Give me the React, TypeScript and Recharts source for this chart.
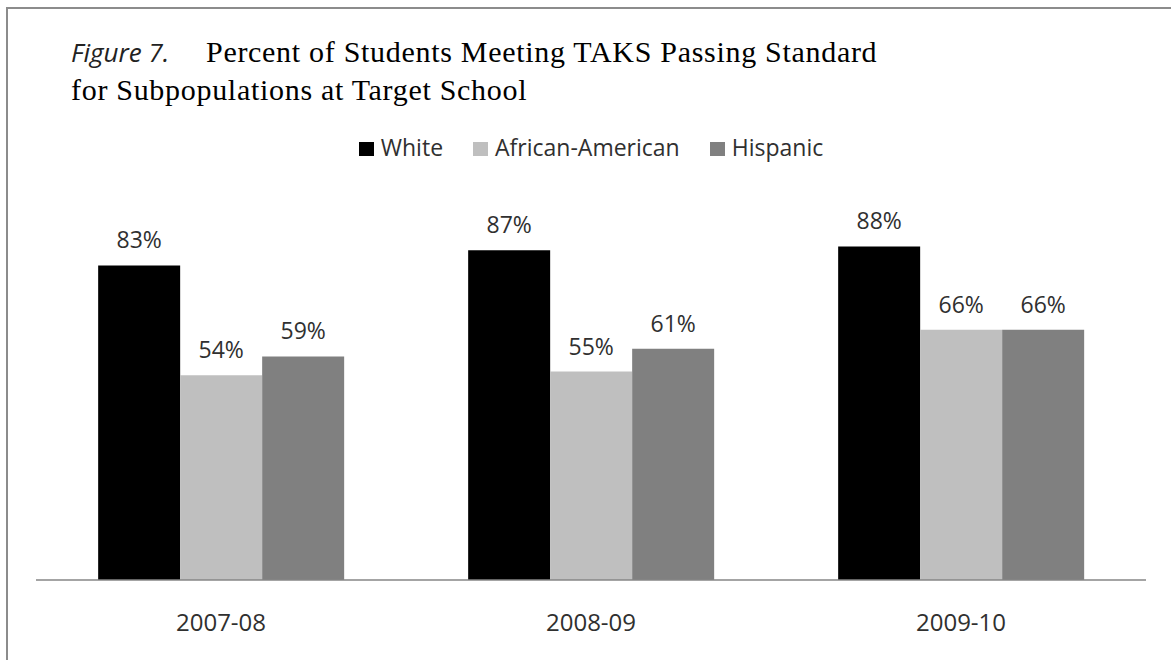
import * as React from 'react';
import { Bar, BarChart, LabelList, XAxis, YAxis } from 'recharts';

const years = ['2007-08', '2008-09', '2009-10'];
const white = [83, 87, 88];
const africanAmerican = [54, 55, 66];
const hispanic = [59, 61, 66];

const seriesNames = ['White', 'African-American', 'Hispanic'];
const seriesColors = ['#000000', '#bfbfbf', '#808080'];

const data = years.map((year, i) => ({
  year,
  white: white[i],
  africanAmerican: africanAmerican[i],
  hispanic: hispanic[i],
}));

const sans = '"Open Sans", Calibri, sans-serif';
const serif = '"Liberation Serif", "Times New Roman", serif';
const textColor = '#303030';

// legend sits outside the chart so it doesn't eat into the plot height
function LegendRow() {
  return (
    <div
      style={{
        position: 'absolute',
        top: 136,
        left: 36,
        width: 1110,
        display: 'flex',
        justifyContent: 'center',
        alignItems: 'center',
        fontFamily: sans,
        fontSize: 23,
        lineHeight: '23px',
        color: textColor,
      }}
    >
      {seriesNames.map((name, i) => (
        <div key={name} style={{ display: 'flex', alignItems: 'center', marginLeft: i ? 30 : 0 }}>
          <span
            style={{
              display: 'inline-block',
              width: 15,
              height: 14,
              marginTop: 2,
              marginRight: 7,
              background: seriesColors[i],
            }}
          />
          <span>{name}</span>
        </div>
      ))}
    </div>
  );
}

const pct = (v: number) => `${v}%`;
const labelStyle = { fontSize: 23, fontFamily: sans, fill: textColor };

export default function App() {
  return (
    <div
      style={{
        position: 'absolute',
        left: 0,
        top: 0,
        width: 1171,
        height: 660,
        overflow: 'hidden',
        background: '#fff',
      }}
    >
      {/* frame: only top and left edges fall inside the picture */}
      <div
        style={{
          position: 'absolute',
          left: 6,
          top: 7,
          width: 1300,
          height: 800,
          border: '2px solid #8c8c8c',
          boxSizing: 'border-box',
        }}
      />
      <svg width={1171} height={120} style={{ position: 'absolute', left: 0, top: 0 }}>
        <text x={71} y={62} fill="#222" fontFamily={sans} fontStyle="italic" fontSize={26}>
          Figure 7.
        </text>
        <text x={206} y={62} fill="#000" fontFamily={serif} fontSize={30} letterSpacing={0.7}>
          Percent of Students Meeting TAKS Passing Standard
        </text>
        <text x={71} y={100} fill="#000" fontFamily={serif} fontSize={30} letterSpacing={0.7}>
          for Subpopulations at Target School
        </text>
      </svg>
      <LegendRow />
      <div style={{ position: 'absolute', left: 0, top: 0 }}>
        <BarChart
          width={1171}
          height={660}
          data={data}
          margin={{ top: 201, right: 25, left: 36, bottom: 40 }}
          barCategoryGap="16.8%"
          barGap={0}
        >
          <XAxis
            dataKey="year"
            height={40}
            tickLine={false}
            tickSize={0}
            tickMargin={34}
            axisLine={{ stroke: '#868686', strokeWidth: 1.5 }}
            tick={{ fontSize: 24, fontFamily: sans, fill: textColor }}
            interval={0}
          />
          <YAxis hide domain={[0, 100]} />
          <Bar dataKey="white" name={seriesNames[0]} fill={seriesColors[0]} isAnimationActive={false}>
            <LabelList dataKey="white" position="top" offset={17} formatter={pct} style={labelStyle} />
          </Bar>
          <Bar
            dataKey="africanAmerican"
            name={seriesNames[1]}
            fill={seriesColors[1]}
            isAnimationActive={false}
          >
            <LabelList
              dataKey="africanAmerican"
              position="top"
              offset={17}
              formatter={pct}
              style={labelStyle}
            />
          </Bar>
          <Bar dataKey="hispanic" name={seriesNames[2]} fill={seriesColors[2]} isAnimationActive={false}>
            <LabelList dataKey="hispanic" position="top" offset={17} formatter={pct} style={labelStyle} />
          </Bar>
        </BarChart>
      </div>
    </div>
  );
}
